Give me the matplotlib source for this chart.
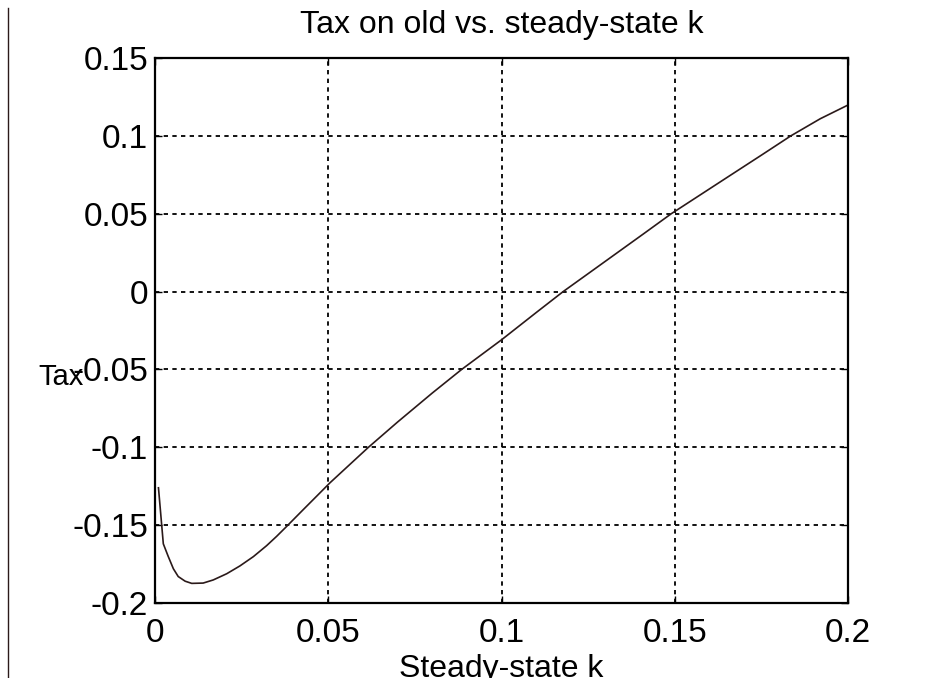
import matplotlib
matplotlib.use("Agg")
import matplotlib.pyplot as plt
from matplotlib.lines import Line2D

plt.rcParams['font.family'] = ['Liberation Sans', 'DejaVu Sans']

# steady-state k vs tax on old
k = [0.001, 0.0024, 0.0038, 0.0053, 0.0067, 0.0087, 0.0106, 0.0139, 0.0168,
     0.0207, 0.0245, 0.0284, 0.0322, 0.0351, 0.038, 0.0428, 0.0467, 0.0505,
     0.056, 0.0616, 0.07, 0.08, 0.0885, 0.1, 0.11, 0.1178, 0.125, 0.133,
     0.141, 0.149, 0.1575, 0.166, 0.175, 0.1835, 0.192, 0.2]
tax = [-0.126, -0.162, -0.170, -0.178, -0.183, -0.186, -0.1874, -0.1872, -0.1852,
       -0.1812, -0.1762, -0.1702, -0.1632, -0.1572, -0.1508, -0.140, -0.1313, -0.1228,
       -0.1115, -0.100, -0.0838, -0.0652, -0.050, -0.031, -0.0135, 0.000, 0.0115, 0.0243,
       0.0371, 0.050, 0.0623, 0.0746, 0.0876, 0.100, 0.111, 0.1198]

xticks = [0, 0.05, 0.1, 0.15, 0.2]
xticklabels = ['0', '0.05', '0.1', '0.15', '0.2']
yticks = [-0.2, -0.15, -0.1, -0.05, 0, 0.05, 0.1, 0.15]
yticklabels = ['-0.2', '-0.15', '-0.1', '-0.05', '0', '0.05', '0.1', '0.15']

W, H = 925, 678
fig = plt.figure(figsize=(W / 100, H / 100), dpi=100)
ax = fig.add_axes([155 / W, 1 - 603 / H, (848 - 155) / W, (603 - 58) / H])

ax.plot(k, tax, color='#2b1a1a', lw=1.2)

ax.set_xlim(0, 0.2)
ax.set_ylim(-0.2, 0.15)
ax.set_xticks(xticks)
ax.set_xticklabels(xticklabels)
ax.set_yticks(yticks)
ax.set_yticklabels(yticklabels)
ax.tick_params(direction='in', length=5, width=1, top=True, right=True,
               labelsize=24, colors='black')
ax.tick_params(axis='x', pad=11)
ax.tick_params(axis='y', pad=5)
ax.grid(True, color='black', linestyle=(0, (2.4, 2.4)), linewidth=1.3)
for s in ax.spines.values():
    s.set_linewidth(1.6)

fig.text(501.5 / W, 1 - 33 / H, 'Tax on old vs. steady-state k',
         ha='center', va='baseline', fontsize=23)
fig.text(501.5 / W, 0.5 / H, 'Steady-state k',
         ha='center', va='baseline', fontsize=23)
fig.text(38 / W, 1 - 385 / H, 'Tax', ha='left', va='baseline', fontsize=21)

fig.add_artist(Line2D([8 / W, 8 / W], [0, 1 - 8 / H], transform=fig.transFigure,
                      color='#2b1a1a', lw=1.0))

fig.savefig('out.png', dpi=100)
